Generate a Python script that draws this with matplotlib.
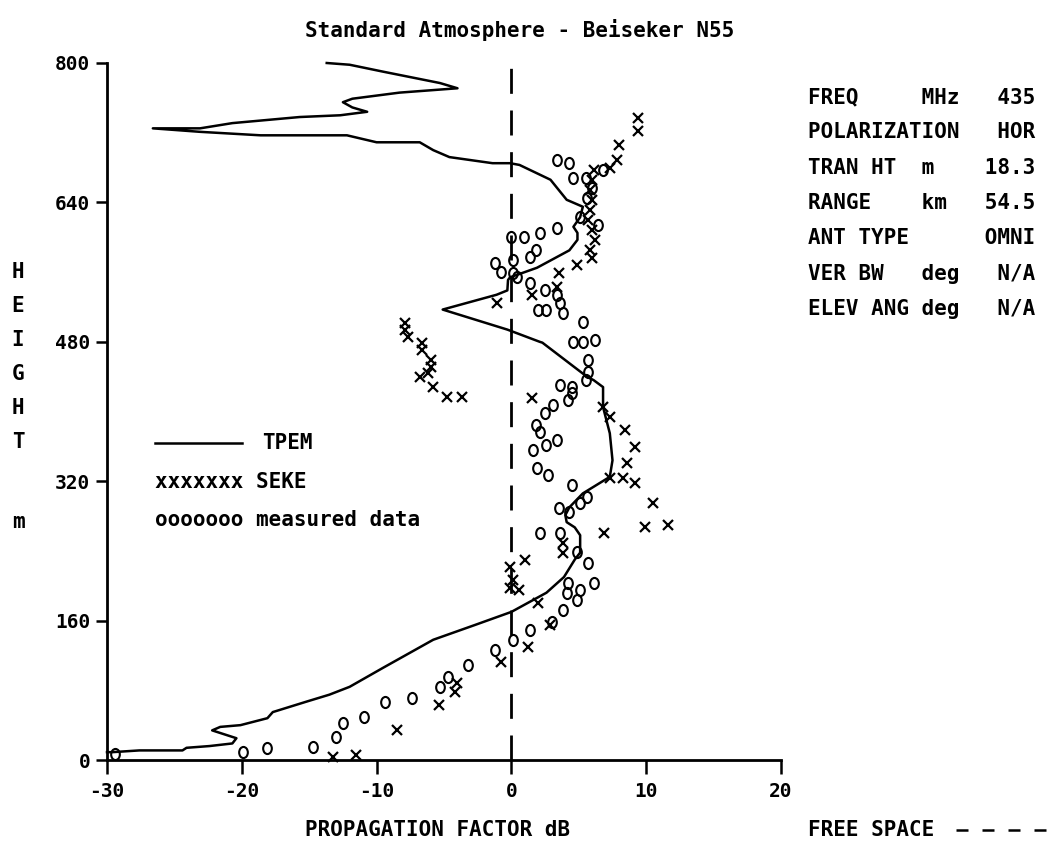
import matplotlib
matplotlib.use("Agg")
import matplotlib.pyplot as plt
from matplotlib.lines import Line2D
from matplotlib.path import Path
from matplotlib.transforms import Affine2D

# ---------- Data ----------
# TPEM propagation factor (dB) vs height (m)
tpem_db = [-30.0, -29.6, -27.6, -24.4, -24.1, -22.4, -20.7, -20.4, -22.2, -21.6,
           -20.1, -18.1, -17.7, -15.2, -13.5, -12.0, -9.5, -5.8, -2.7, 0.0,
           2.6, 3.9, 4.7, 5.1, 5.1, 4.7, 4.1, 4.0, 4.3, 5.3,
           7.3, 7.5, 7.3, 6.8, 6.8, 6.1, 5.6, 2.3, 2.1, -0.3,
           -5.1, -1.1, -0.3, -0.25, -0.1, 1.9, 4.3, 4.9, 4.9, 4.6,
           5.1, 5.3, 4.1, 2.9, 0.6, -0.1, -1.4, -4.6, -5.8, -6.8,
           -10.0, -12.2, -18.6, -23.1, -26.6, -23.1, -20.7, -15.7, -12.7, -10.7,
           -11.8, -12.5, -11.8, -8.3, -4.0, -5.3, -9.5, -12.0, -13.7]
tpem_h = [9, 9, 11, 11, 14, 16, 19, 25, 34, 38,
          40, 48, 55, 67, 75, 84, 106, 138, 155, 170,
          192, 210, 230, 238, 258, 267, 273, 281, 290, 306,
          325, 344, 375, 405, 428, 436, 440, 479, 480, 494,
          517, 534, 539, 551, 554, 565, 585, 597, 605, 612,
          623, 635, 643, 666, 683, 685, 685, 692, 700, 709,
          709, 717, 717, 721, 725, 725, 731, 738, 740, 744,
          749, 755, 759, 766, 771, 777, 790, 798, 800]

# SEKE model points
seke_db = [9.4, 9.4, 8.0, 7.8, 7.3, 6.1, 6.0, 5.8, 6.0, 5.8,
           5.7, 6.0, 6.2, 5.8, 6.0, 4.9, 3.5, 3.4, 1.5, -1.1,
           -7.9, -7.9, -7.7, -6.6, -6.6, -6.0, -6.0, -6.2, -6.8, -5.8,
           -4.8, -3.7, 1.5, 6.8, 7.3, 8.4, 9.2, 8.6, 7.3, 8.3,
           9.2, 10.5, 9.9, 11.6, 6.9, 3.8, 3.8, 1.0, -0.1, 0.1,
           -0.1, 0.6, 2.0, 2.9, 1.2, -0.8, -4.0, -4.2, -5.4, -8.5,
           -11.5, -13.2]
seke_h = [737, 722, 706, 689, 679, 677, 666, 654, 643, 631,
          620, 608, 597, 585, 576, 568, 559, 543, 534, 525,
          502, 494, 485, 479, 471, 459, 451, 444, 440, 428,
          417, 417, 415, 405, 394, 379, 359, 341, 324, 324,
          318, 295, 267, 270, 261, 249, 238, 230, 222, 207,
          197, 195, 180, 155, 130, 112, 88, 78, 63, 34,
          6, 3]

# measured data
meas_db = [3.4, 4.3, 4.6, 5.5, 6.8, 6.0, 5.6, 5.1, 6.4, 0.0,
           0.9, 2.1, 3.4, 1.8, 1.4, 0.1, -1.2, -0.8, 0.1, 0.4,
           1.4, 2.5, 3.4, 3.6, 3.8, 2.0, 2.6, 5.3, 4.6, 5.3,
           6.2, 5.7, 5.7, 5.5, 3.6, 4.5, 4.5, 4.2, 3.1, 2.5,
           1.8, 2.1, 3.4, 2.6, 1.6, 1.9, 2.7, 4.5, 5.6, 5.1,
           4.3, 3.5, 2.1, 3.6, 4.9, 5.7, 6.1, 4.2, 4.1, 5.1,
           4.9, 3.8, 3.0, 1.4, 0.1, -1.2, -3.2, -4.7, -5.3, -7.4,
           -9.4, -10.9, -12.5, -13.0, -14.7, -18.1, -19.9, -29.4]
meas_h = [689, 685, 668, 668, 677, 656, 645, 623, 614, 600,
          600, 605, 611, 585, 577, 574, 570, 560, 559, 554,
          547, 539, 534, 525, 513, 516, 516, 503, 480, 480,
          482, 459, 445, 436, 430, 428, 421, 413, 407, 398,
          385, 376, 367, 362, 356, 335, 327, 316, 302, 295,
          285, 289, 261, 261, 239, 226, 203, 203, 192, 195,
          184, 172, 158, 149, 138, 126, 109, 95, 84, 71,
          67, 49, 42, 26, 15, 14, 9, 7]

x_ticks = [-30, -20, -10, 0, 10, 20]
y_ticks = [0, 160, 320, 480, 640, 800]

info_rows = ["FREQ     MHz   435",
             "POLARIZATION   HOR",
             "TRAN HT  m    18.3",
             "RANGE    km   54.5",
             "ANT TYPE      OMNI",
             "VER BW   deg   N/A",
             "ELEV ANG deg   N/A"]

# ---------- Figure ----------
plt.rcParams['font.family'] = ['DejaVu Sans Mono']
plt.rcParams['font.weight'] = 'bold'

W, H = 1050, 848
fig = plt.figure(figsize=(W / 100, H / 100), dpi=100)
ax = fig.add_axes([107 / W, 1 - 760 / H, (781 - 107) / W, (760 - 63) / H])

# printer-style "0": a slightly tall ellipse
oval = Affine2D().scale(0.78, 1.0).transform_path(Path.unit_circle())

ax.plot(tpem_db, tpem_h, color='black', lw=1.8, clip_on=False)
ax.plot(seke_db, seke_h, linestyle='none', marker='x', color='black',
        markersize=7, markeredgewidth=1.6, clip_on=False)
ax.plot(meas_db, meas_h, linestyle='none', marker=oval, markerfacecolor='none',
        markeredgecolor='black', markersize=8, markeredgewidth=1.5, clip_on=False)
ax.plot([0, 0], [0, 800], color='black', lw=2, dashes=(9, 6))

ax.set_xlim(-30, 20)
ax.set_ylim(0, 800)
ax.set_xticks(x_ticks)
ax.set_yticks(y_ticks)
ax.set_xticklabels([str(v) for v in x_ticks], fontsize=14)
ax.set_yticklabels([str(v) for v in y_ticks], fontsize=14)
ax.tick_params(axis='x', direction='out', length=10, width=1.8, pad=6)
ax.tick_params(axis='y', direction='out', length=8, width=1.8, pad=4)
for side in ['top', 'right']:
    ax.spines[side].set_visible(False)
for side in ['left', 'bottom']:
    ax.spines[side].set_linewidth(2)

def fy(py):
    return 1 - py / H

fig.text(520 / W, fy(30), "Standard Atmosphere - Beiseker N55", ha='center',
         va='center', fontsize=15)
fig.text(438 / W, fy(830), "PROPAGATION FACTOR dB", ha='center', va='center',
         fontsize=15)
fig.text(808 / W, fy(830), "FREE SPACE", ha='left', va='center', fontsize=15)
fig.add_artist(Line2D([956 / W, 1046 / W], [fy(830), fy(830)], color='black',
                      lw=1.8, dashes=(4.8, 5.6)))

# vertical axis label
for i, ch in enumerate("HEIGHT"):
    fig.text(18 / W, fy(272 + i * 34), ch, ha='center', va='center', fontsize=15)
fig.text(18 / W, fy(522), "m", ha='center', va='center', fontsize=15)

# legend
fig.add_artist(Line2D([155 / W, 242 / W], [fy(443), fy(443)], color='black', lw=1.8))
fig.text(262 / W, fy(443), "TPEM", ha='left', va='center', fontsize=15)
fig.text(155 / W, fy(482), "xxxxxxx SEKE", ha='left', va='center', fontsize=15)
fig.text(155 / W, fy(520), "ooooooo measured data", ha='left', va='center', fontsize=15)

# run info block
for i, row in enumerate(info_rows):
    fig.text(808 / W, fy(97 + i * 35.3), row, ha='left', va='center', fontsize=15)

fig.savefig("out.png", dpi=100)
